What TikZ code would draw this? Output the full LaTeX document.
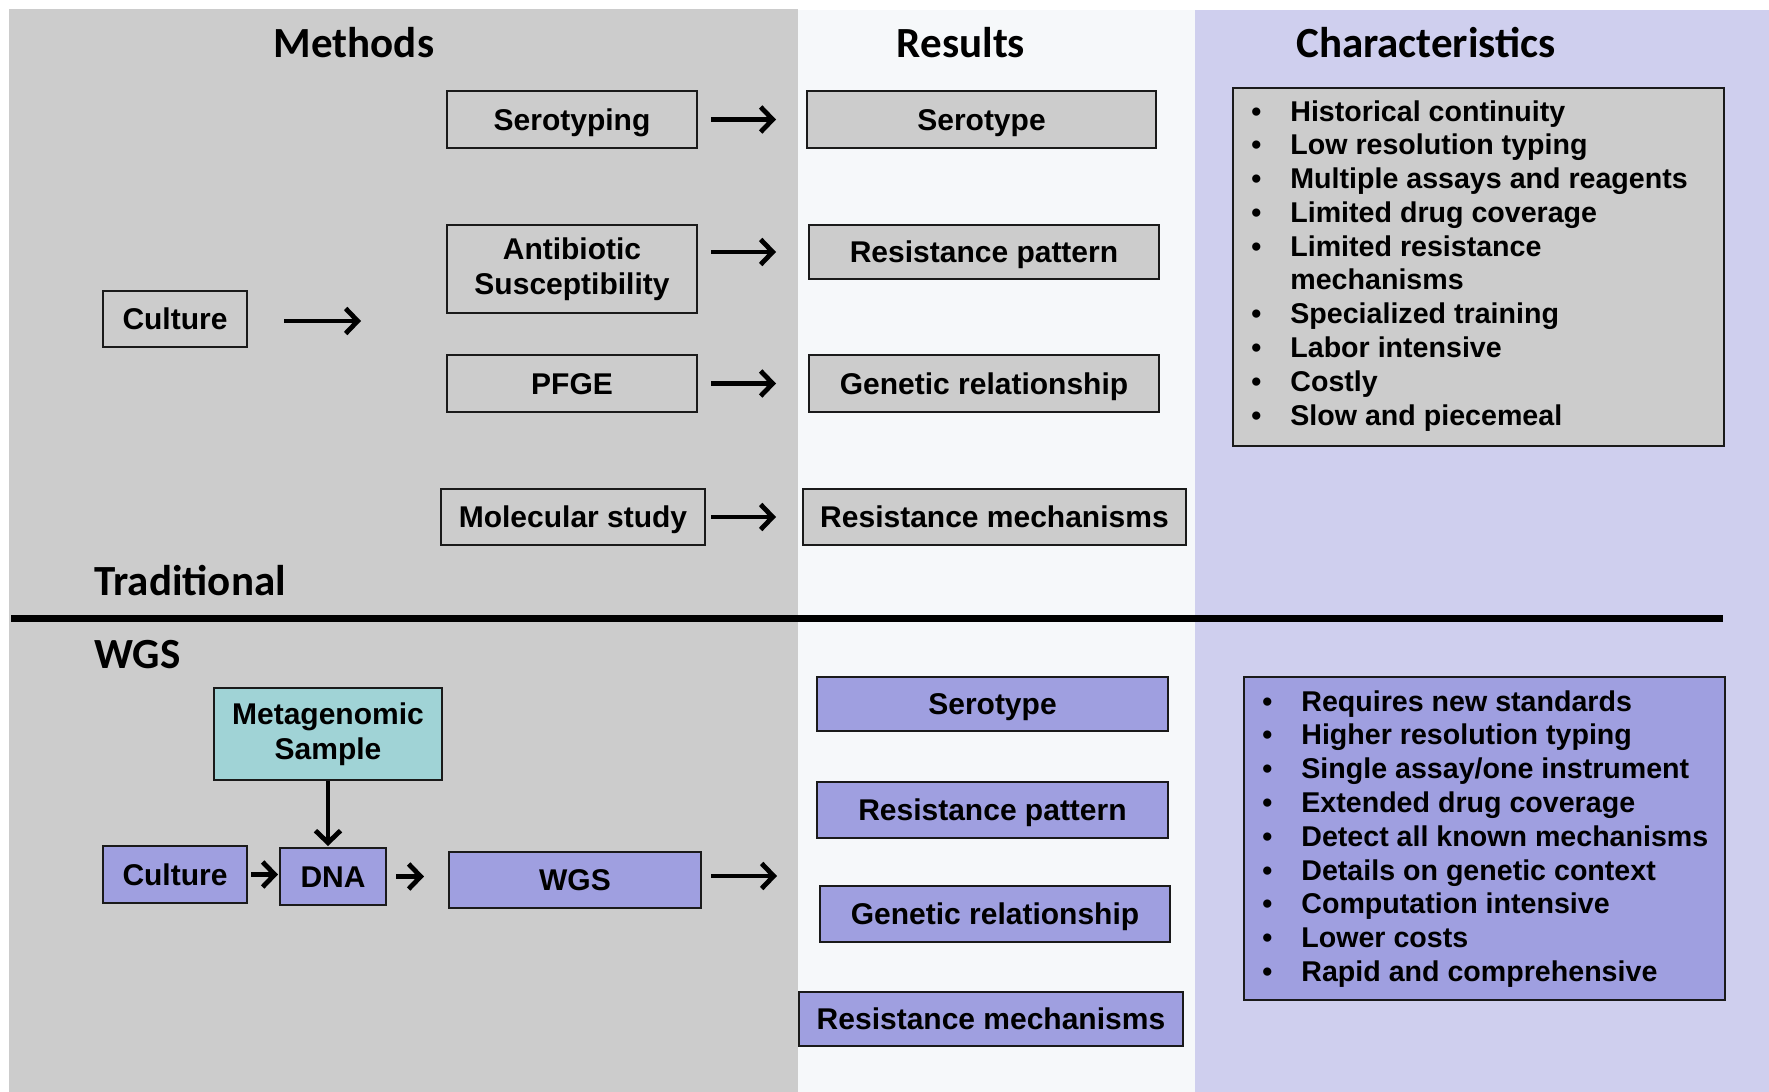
\documentclass[tikz,border=0pt]{standalone}
\usepackage{fontspec}
\setmainfont{Liberation Sans}
\newfontfamily\titlefont{Carlito}
\usetikzlibrary{arrows.meta}
\definecolor{gpanel}{HTML}{CCCCCC}
\definecolor{rpanel}{HTML}{F6F8FA}
\definecolor{lpanel}{HTML}{CFCFEE}
\definecolor{pbox}{HTML}{9F9FE0}
\definecolor{tbox}{HTML}{A0D3D6}
\definecolor{edge}{HTML}{1A1A1A}
\tikzset{
  x=0.5pt, y=-0.5pt,
  boxbase/.style={draw=edge, line width=1pt, inner sep=0pt, align=center,
    font=\fontsize{15}{17.5}\selectfont\bfseries},
  oneline/.style={text height=10.7pt, text depth=0pt},
  gbox/.style={boxbase, fill=gpanel},
  pbbox/.style={boxbase, fill=pbox},
  tbbox/.style={boxbase, fill=tbox},
  flow/.style={line width=2.4pt, -{Straight Barb[length=6pt,width=12.5pt]}},
  ttl/.style={font=\fontsize{21.5}{24}\selectfont\titlefont\bfseries, inner sep=0pt},
  listnode/.style={inner sep=0pt, anchor=base west,
    font=\fontsize{14.3}{16.9}\selectfont\bfseries},
}
\newcommand{\bl}{\textbullet}
\begin{document}
\begin{tikzpicture}
\useasboundingbox (0,0) rectangle (1769,1092);
\fill[white] (0,0) rectangle (1769,1092);
% panels
\fill[gpanel] (9,9) rectangle (798,1092);
\fill[rpanel] (798,10) rectangle (1195,1092);
\fill[lpanel] (1195,10) rectangle (1769,1092);
% divider
\draw[line width=3.5pt] (11,618) -- (1723,618);
% titles
\node[ttl] (tmeth) at (354,43) {Methods};
\node[ttl] (tres) at (961,43) {Results};
\node[ttl] (tchar) at (1426,43) {Characteristics};
\node[ttl, anchor=west] (ttrad) at (94,581) {Traditional};
\node[ttl, anchor=west] (twgs) at (94,655) {WGS};

% traditional methods
\node[gbox, oneline, minimum width=72pt, minimum height=28pt] (cult) at (175,319) {Culture};
\node[gbox, oneline, minimum width=125pt, minimum height=28.5pt] (sero) at (572,119.5) {Serotyping};
\node[gbox, minimum width=125pt, minimum height=44pt] (abx) at (572,269) {Antibiotic\\Susceptibility};
\node[gbox, oneline, minimum width=125pt, minimum height=28.5pt] (pfge) at (572,383.5) {PFGE};
\node[gbox, oneline, minimum width=132pt, minimum height=28pt] (mol) at (573,517) {Molecular study};
% traditional results
\node[gbox, oneline, minimum width=174.5pt, minimum height=28.5pt] (rsero) at (981.5,119.5) {Serotype};
\node[gbox, oneline, minimum width=175pt, minimum height=27pt] (rpat) at (984,252) {Resistance pattern};
\node[gbox, oneline, minimum width=175pt, minimum height=28.5pt] (rgen) at (984,383.5) {Genetic relationship};
\node[gbox, oneline, minimum width=191.5pt, minimum height=28pt] (rmech) at (994.5,517) {Resistance mechanisms};

\coordinate (ctip) at (361,321);
\draw[flow, shorten <=18pt] (cult.east |- ctip) -- (ctip);
\draw[flow, shorten <=6.5pt, shorten >=15pt] (sero.east) -- (rsero.west);
\draw[flow, shorten <=6.5pt, shorten >=16pt] (abx.east |- rpat.west) -- (rpat.west);
\draw[flow, shorten <=6.5pt, shorten >=16pt] (pfge.east) -- (rgen.west);
\draw[flow, shorten <=2.5pt, shorten >=13pt] (mol.east) -- (rmech.west);

% traditional characteristics
\draw[draw=edge, line width=1pt, fill=gpanel] (1233,88) rectangle (1724,446);
\node[listnode] (tlist) at (1251,121) {\begin{tabular}[t]{@{}l@{\hspace{14.5pt}}l@{}}
\bl & Historical continuity\\
\bl & Low resolution typing\\
\bl & Multiple assays and reagents\\
\bl & Limited drug coverage\\
\bl & Limited resistance\\
    & mechanisms\\
\bl & Specialized training\\
\bl & Labor intensive\\
\bl & Costly\\
\bl & Slow and piecemeal
\end{tabular}};

% WGS methods
\node[tbbox, minimum width=114pt, minimum height=46pt] (meta) at (328,734) {Metagenomic\\Sample};
\node[pbbox, oneline, minimum width=72pt, minimum height=28.5pt] (cult2) at (175,874.5) {Culture};
\node[pbbox, oneline, minimum width=53pt, minimum height=28.5pt] (dna) at (333,876.5) {DNA};
\node[pbbox, oneline, minimum width=126pt, minimum height=28pt] (wgs) at (575,880) {WGS};
\draw[flow, shorten >=0.5pt] (meta.south) -- (meta.south |- dna.north);
\draw[flow, shorten <=1.5pt, shorten >=0.5pt] (cult2.east) -- (cult2.east -| dna.west);
\draw[flow, shorten <=4.5pt, shorten >=12pt] (dna.east) -- (dna.east -| wgs.west);
\coordinate (wtip) at (777,876);
\draw[flow, shorten <=4.5pt] (wgs.east |- wtip) -- (wtip);

% WGS results
\node[pbbox, oneline, minimum width=175.5pt, minimum height=27pt] (wsero) at (992.5,704) {Serotype};
\node[pbbox, oneline, minimum width=175.5pt, minimum height=28pt] (wpat) at (992.5,810) {Resistance pattern};
\node[pbbox, oneline, minimum width=175pt, minimum height=28pt] (wgen) at (995,914) {Genetic relationship};
\node[pbbox, oneline, minimum width=192pt, minimum height=27pt] (wmech) at (991,1019) {Resistance mechanisms};

% WGS characteristics
\draw[draw=edge, line width=1pt, fill=pbox] (1244,677) rectangle (1725,1000);
\node[listnode] (wlist) at (1262,711) {\begin{tabular}[t]{@{}l@{\hspace{14.5pt}}l@{}}
\bl & Requires new standards\\
\bl & Higher resolution typing\\
\bl & Single assay/one instrument\\
\bl & Extended drug coverage\\
\bl & Detect all known mechanisms\\
\bl & Details on genetic context\\
\bl & Computation intensive\\
\bl & Lower costs\\
\bl & Rapid and comprehensive
\end{tabular}};
\end{tikzpicture}
\end{document}
